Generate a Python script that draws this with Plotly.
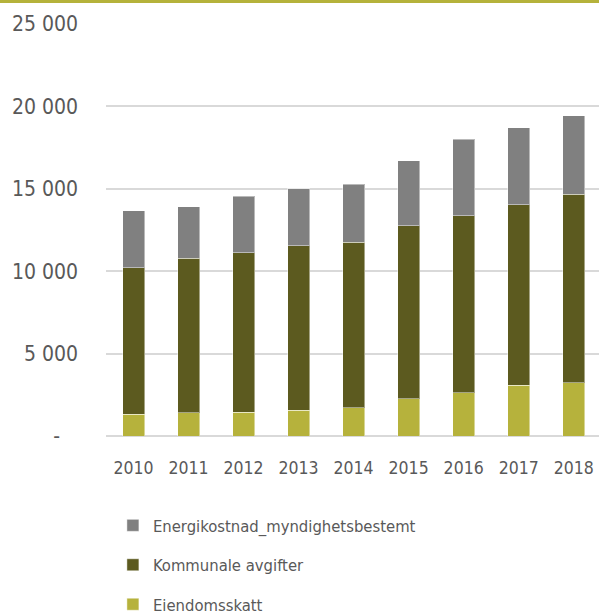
import plotly.graph_objects as go

years = ["2010", "2011", "2012", "2013", "2014", "2015", "2016", "2017", "2018"]
eiendomsskatt = [1320, 1400, 1440, 1560, 1720, 2260, 2610, 3080, 3220]
kommunale_avgifter = [8890, 9380, 9680, 9970, 10030, 10500, 10760, 10940, 11450]
energikostnad = [3460, 3120, 3440, 3460, 3520, 3950, 4650, 4690, 4750]

y_tickvals = [0, 5000, 10000, 15000, 20000, 25000]
y_ticktext = ["-\u00a0\u00a0\u00a0", "5 000", "10 000", "15 000", "20 000", "25 000"]

FONT = "'DejaVu Sans Condensed', 'Liberation Sans Narrow', sans-serif"
TXT = "#595959"
edge = dict(color="rgba(255,255,255,0.45)", width=1)

fig = go.Figure()
fig.add_trace(go.Bar(x=years, y=eiendomsskatt, name="Eiendomsskatt",
                     marker=dict(color="#b6b23c", line=edge), width=0.4,
                     legendgroup="a", legendrank=3))
fig.add_trace(go.Bar(x=years, y=kommunale_avgifter, name="Kommunale avgifter",
                     marker=dict(color="#5c5a1f", line=edge), width=0.4,
                     legendgroup="b", legendrank=2))
fig.add_trace(go.Bar(x=years, y=energikostnad, name="Energikostnad_myndighetsbestemt",
                     marker=dict(color="#808080", line=edge), width=0.4,
                     legendgroup="c", legendrank=1))

fig.update_layout(
    barmode="stack",
    width=599, height=614,
    margin=dict(l=106, r=0, t=24, b=178, autoexpand=False),
    paper_bgcolor="white", plot_bgcolor="white",
    font=dict(family=FONT, color=TXT),
    showlegend=True,
    legend=dict(orientation="v", traceorder="grouped", tracegroupgap=15,
                x=0.014, xanchor="left", y=-0.175, yanchor="top",
                font=dict(size=16.5, color=TXT, family=FONT), bgcolor="rgba(0,0,0,0)"),
    xaxis=dict(type="category", range=[-0.5, 8.46], showgrid=False, showline=False,
               automargin=False,
               ticks="", tickfont=dict(size=17.5, color=TXT), ticklabelstandoff=19),
    yaxis=dict(range=[0, 25000], tickvals=y_tickvals, ticktext=y_ticktext,
               automargin=False,
               showgrid=True, gridcolor="#d9d9d9", gridwidth=1.5,
               zeroline=True, zerolinecolor="#d9d9d9", zerolinewidth=1.5,
               showline=False, ticks="", tickfont=dict(size=21, color=TXT),
               ticklabelstandoff=27),
    shapes=[dict(type="line", xref="paper", yref="paper",
                 x0=-0.3, x1=1.1, y0=(436 - 1.2) / 412, y1=(436 - 1.2) / 412,
                 line=dict(color="#b5b23b", width=3.5))],
)

fig.write_html("out.html",
               config={"displayModeBar": False},
               post_script="document.body.style.margin='0';document.body.style.padding='0';"
                           "document.body.style.overflow='hidden';")
